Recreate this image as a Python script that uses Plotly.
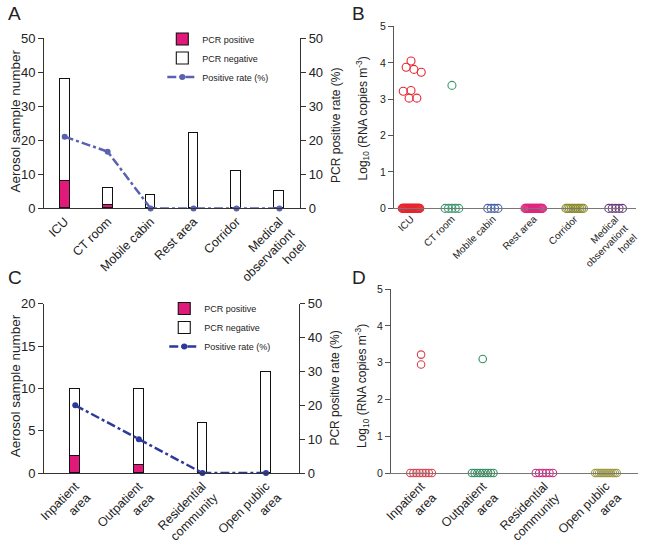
import numpy as np
import plotly.graph_objects as go

W, H = 649, 553
FONT = "Liberation Sans, Arial, sans-serif"

# ---------------- data ----------------
a_cats = ["ICU", "CT room", "Mobile cabin", "Rest area", "Corridor",
          "Medical<br>observationt<br>hotel"]
a_total = [38, 6, 4, 22, 11, 5]
a_pos = [8, 1, 0, 0, 0, 0]

b_cats = a_cats
b_pos_vals = [
    [4.05, 3.88, 3.82, 3.74, 3.24, 3.22, 3.03, 3.03],
    [3.38],
    [], [], [], [],
]
b_neg_counts = [30, 5, 4, 22, 11, 5]
b_colors = ["#e8262f", "#3a9a6e", "#4762ac", "#e0257f", "#8c8c2c", "#6b3d7c"]

c_cats = ["Inpatient<br>area", "Outpatient<br>area", "Residential<br>community",
          "Open public<br>area"]
c_total = [10, 10, 6, 12]
c_pos = [2, 1, 0, 0]

d_cats = c_cats
d_pos_vals = [[3.22, 2.95], [3.10], [], []]
d_neg_counts = [8, 9, 6, 12]
d_colors = ["#d8404c", "#2e8c5c", "#d02384", "#9c9a44"]

PINK = "#e0197a"


def px_x(p):
    return p / W


def px_y(p):
    return 1 - p / H


def swarm(pos_vals, n_neg, xpu, ypu, diam, step, maxw):
    """Deterministic beeswarm offsets (category units) for one column."""
    xs, ys = [], []
    placed = []
    for v in sorted(pos_vals, reverse=True):
        cand = [0.0]
        for k in range(1, 40):
            cand += [-k * 0.5, k * 0.5]
        for c in cand:
            ok = True
            for (px, py) in placed:
                if (c - px) ** 2 + ((v - py) * ypu) ** 2 < diam ** 2:
                    ok = False
                    break
            if ok:
                placed.append((c, v))
                break
    for (px, py) in placed:
        xs.append(px / xpu)
        ys.append(py)
    if n_neg > 0:
        w = min((n_neg - 1) * step, maxw)
        offs = np.linspace(-w / 2, w / 2, n_neg) if n_neg > 1 else np.array([0.0])
        xs += list(offs / xpu)
        ys += [0.0] * n_neg
    return np.array(xs), np.array(ys)


fig = go.Figure()

# ---------------- panel A ----------------
ia = list(range(len(a_cats)))
a_neg = [t - p for t, p in zip(a_total, a_pos)]
a_rate = [100 * p / t for p, t in zip(a_pos, a_total)]
fig.add_trace(go.Bar(x=ia, y=a_pos, width=0.23, name="PCR positive",
                     marker=dict(color=PINK, line=dict(color="#111", width=1.1)),
                     xaxis="x", yaxis="y", legend="legend"))
fig.add_trace(go.Bar(x=ia, y=a_neg, width=0.23, name="PCR negative",
                     marker=dict(color="white", line=dict(color="#111", width=1.1)),
                     xaxis="x", yaxis="y", legend="legend"))
fig.add_trace(go.Scatter(x=ia, y=a_rate, mode="lines+markers", name="Positive rate (%)",
                         line=dict(color="#5a62b0", width=2.5, dash="dashdot"),
                         marker=dict(size=6, color="#5a62b0"), cliponaxis=False,
                         xaxis="x", yaxis="y2", legend="legend"))

# ---------------- panel B ----------------
xpu_b = 42.0
ypu_b = 187 / 5
for i, c in enumerate(b_cats):
    ox, yy = swarm(b_pos_vals[i], b_neg_counts[i], xpu_b, ypu_b, 8, 3.5, 18)
    fig.add_trace(go.Scatter(x=i + ox, y=yy, mode="markers", showlegend=False,
                             marker=dict(symbol="circle-open", size=8,
                                         color=b_colors[i], line=dict(width=1.1)),
                             cliponaxis=False, xaxis="x2", yaxis="y3"))

# ---------------- panel C ----------------
ic = list(range(len(c_cats)))
c_neg = [t - p for t, p in zip(c_total, c_pos)]
c_rate = [100 * p / t for p, t in zip(c_pos, c_total)]
fig.add_trace(go.Bar(x=ic, y=c_pos, width=0.15, name="PCR positive",
                     marker=dict(color=PINK, line=dict(color="#111", width=1.1)),
                     xaxis="x3", yaxis="y4", legend="legend2"))
fig.add_trace(go.Bar(x=ic, y=c_neg, width=0.15, name="PCR negative",
                     marker=dict(color="white", line=dict(color="#111", width=1.1)),
                     xaxis="x3", yaxis="y4", legend="legend2"))
fig.add_trace(go.Scatter(x=ic, y=c_rate, mode="lines+markers", name="Positive rate (%)",
                         line=dict(color="#2b3a9a", width=2.5, dash="dashdot"),
                         marker=dict(size=6, color="#2b3a9a"), cliponaxis=False,
                         xaxis="x3", yaxis="y5", legend="legend2"))

# ---------------- panel D ----------------
xpu_d = 63.0
ypu_d = 189 / 5
for i, c in enumerate(d_cats):
    ox, yy = swarm(d_pos_vals[i], d_neg_counts[i], xpu_d, ypu_d, 7, 3.5, 22)
    fig.add_trace(go.Scatter(x=i + ox, y=yy, mode="markers", showlegend=False,
                             marker=dict(symbol="circle-open", size=7.5,
                                         color=d_colors[i], line=dict(width=1.1)),
                             cliponaxis=False, xaxis="x4", yaxis="y6"))

# ---------------- axes ----------------
AX = "#333333"
tick_big = dict(family=FONT, size=13, color="#222")
tick_small = dict(family=FONT, size=10.5, color="#222")
xlab_big = dict(family=FONT, size=12.5, color="#222")
xlab_small = dict(family=FONT, size=10, color="#222")


def yax(domain, rng, dtick, font, side="left", anchor=None, overlaying=None, lc=AX):
    d = dict(domain=domain, range=rng, dtick=dtick, tick0=0, showline=True,
             linecolor=lc, linewidth=1, ticks="outside", ticklen=5, tickcolor=lc,
             showgrid=False, zeroline=False, tickfont=font, side=side, fixedrange=True)
    if anchor:
        d["anchor"] = anchor
    if overlaying:
        d["overlaying"] = overlaying
    return d


def xax(domain, rng, cats, font, anchor, lc=AX):
    return dict(domain=domain, range=rng, tickmode="array",
                tickvals=list(range(len(cats))), ticktext=cats, tickangle=-45,
                showline=True, linecolor=lc, linewidth=1, ticks="", showgrid=False,
                zeroline=False, tickfont=font, anchor=anchor, fixedrange=True)


fig.update_layout(
    width=W, height=H, margin=dict(l=0, r=0, t=0, b=0),
    paper_bgcolor="white", plot_bgcolor="white", barmode="stack",
    bargap=0,
    font=dict(family=FONT, color="#222"),
    xaxis=xax([px_x(39), px_x(301)], [-0.48, 5.48], a_cats, xlab_big, "y"),
    yaxis=yax([px_y(207), px_y(32)], [0, 50], 10, tick_big, anchor="x"),
    yaxis2=yax([px_y(207), px_y(32)], [0, 50], 10, tick_big, side="right",
               anchor="x", overlaying="y"),
    xaxis2=xax([px_x(397), px_x(645)], [-0.42, 5.5], b_cats, xlab_small, "y3",
               lc="#777"),
    yaxis3=yax([px_y(207), px_y(20)], [0, 5], 1, tick_small, anchor="x2", lc="#555"),
    xaxis3=xax([px_x(39), px_x(300)], [-0.49, 3.52], c_cats, xlab_big, "y4"),
    yaxis4=yax([px_y(479), px_y(305)], [0, 20], 5, tick_big, anchor="x3"),
    yaxis5=yax([px_y(479), px_y(305)], [0, 50], 10, tick_big, side="right",
               anchor="x3", overlaying="y4"),
    xaxis4=xax([px_x(394), px_x(647)], [-0.49, 3.52], d_cats, xlab_big, "y6",
               lc="#777"),
    yaxis6=yax([px_y(479), px_y(290)], [0, 5], 1, tick_small, anchor="x4", lc="#555"),
    legend=dict(x=px_x(160), y=px_y(18), xanchor="left", yanchor="top",
                bgcolor="rgba(0,0,0,0)", traceorder="normal",
                font=dict(family=FONT, size=9, color="#222")),
    legend2=dict(x=px_x(162), y=px_y(295), xanchor="left", yanchor="top",
                 bgcolor="rgba(0,0,0,0)", traceorder="normal",
                 font=dict(family=FONT, size=9, color="#222")),
)

# ---------------- text annotations ----------------
ann = []


def vtitle(text, x, y, size):
    ann.append(dict(text=text, x=px_x(x), y=px_y(y), xref="paper", yref="paper",
                    showarrow=False, textangle=-90, xanchor="center",
                    yanchor="middle", font=dict(family=FONT, size=size, color="#222")))


vtitle("Aerosol sample number", 10, 117, 13.5)
vtitle("PCR positive rate (%)", 337, 122, 12)
vtitle("Log<sub>10</sub> (RNA copies m<sup>-3</sup>)", 365, 115, 12)
vtitle("Aerosol sample number", 10, 389, 13.5)
vtitle("PCR positive rate (%)", 337, 392, 12)
vtitle("Log<sub>10</sub> (RNA copies m<sup>-3</sup>)", 365, 390, 12)

for lab, x, y in [("A", 9, 7), ("B", 361, 7), ("C", 9, 278), ("D", 361, 278)]:
    ann.append(dict(text=lab, x=px_x(x), y=px_y(y), xref="paper", yref="paper",
                    showarrow=False, xanchor="center", yanchor="middle",
                    font=dict(family=FONT, size=19, color="#222")))

fig.update_layout(annotations=ann)

fig.write_html("out.html", config={"displayModeBar": False},
               post_script="document.body.style.margin='0';"
                           "document.body.style.overflow='hidden';")
